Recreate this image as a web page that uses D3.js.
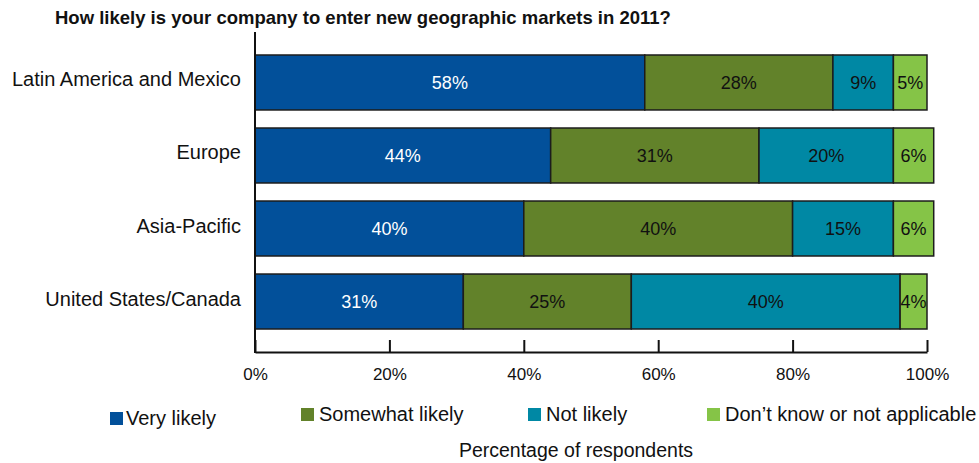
<!DOCTYPE html>
<html>
<head>
<meta charset="utf-8">
<script src="https://cdn.jsdelivr.net/npm/d3@7"></script>
<style>
  html, body { margin: 0; padding: 0; background: #fff; }
  svg { display: block; font-family: "Liberation Sans", Arial, sans-serif; }
</style>
</head>
<body>
<svg id="chart" width="979" height="463"></svg>
<script>
// Regions, top to bottom
const regions = ["Latin America and Mexico", "Europe", "Asia-Pacific", "United States/Canada"];
// Response categories
const responses = ["Very likely", "Somewhat likely", "Not likely", "Don\u2019t know or not applicable"];
// Percent of respondents per region, one array per response
const veryLikely     = [58, 44, 40, 31];
const somewhatLikely = [28, 31, 40, 25];
const notLikely      = [9, 20, 15, 40];
const dontKnow       = [5, 6, 6, 4];
// Axis ticks
const tickValues = [0, 20, 40, 60, 80, 100];

const colors = ["#02509a", "#62822a", "#0088a4", "#85c447"];
const labelColors = ["#ffffff", "#111111", "#111111", "#111111"];

const series = [veryLikely, somewhatLikely, notLikely, dontKnow];
const rows = regions.map((r, i) => {
  const o = { region: r };
  responses.forEach((k, j) => { o[k] = series[j][i]; });
  return o;
});
const stacked = d3.stack().keys(responses)(rows);

const svg = d3.select("#chart");
const x0 = 255, x1 = 927, yTop = 32, yBot = 352;

const x = d3.scaleLinear().domain([0, 100]).range([x0, x1]);
const y = d3.scaleBand().domain(regions).range([yTop, yBot]).paddingInner(0.247).paddingOuter(0.315);

// Title
svg.append("text")
  .attr("x", 55).attr("y", 24)
  .attr("font-size", 18.5).attr("font-weight", "bold").attr("fill", "#111")
  .text("How likely is your company to enter new geographic markets in 2011?");

// Bars
const layer = svg.append("g").selectAll("g").data(stacked).join("g")
  .attr("fill", (d, i) => colors[i]);

layer.selectAll("rect").data(d => d).join("rect")
  .attr("x", d => x(d[0]))
  .attr("y", d => y(d.data.region))
  .attr("width", d => x(d[1]) - x(d[0]))
  .attr("height", y.bandwidth())
  .attr("stroke", "#1c1c1c").attr("stroke-width", 1.5);

// Value labels
stacked.forEach((s, i) => {
  svg.append("g").selectAll("text").data(s).join("text")
    .attr("x", d => x((d[0] + d[1]) / 2))
    .attr("y", d => y(d.data.region) + y.bandwidth() / 2)
    .attr("dy", "0.35em")
    .attr("text-anchor", "middle")
    .attr("font-size", 18)
    .attr("fill", labelColors[i])
    .text(d => (d[1] - d[0]) + "%");
});

// Category labels
svg.append("g").selectAll("text").data(regions).join("text")
  .attr("x", 241)
  .attr("y", d => y(d) + y.bandwidth() / 2 - 3)
  .attr("dy", "0.35em")
  .attr("text-anchor", "end")
  .attr("font-size", 20)
  .attr("fill", "#111")
  .text(d => d);

// Vertical axis line
svg.append("line")
  .attr("x1", x0).attr("x2", x0).attr("y1", yTop).attr("y2", yBot + 1)
  .attr("stroke", "#111").attr("stroke-width", 2);

// Bottom axis with inward ticks
const xAxis = d3.axisBottom(x).tickValues(tickValues).tickFormat(d => d + "%")
  .tickSizeInner(-12).tickSizeOuter(0).tickPadding(16);
const ax = svg.append("g").attr("transform", `translate(0,${yBot})`).call(xAxis);
ax.select(".domain").attr("stroke", "#111").attr("stroke-width", 2);
ax.selectAll(".tick line").attr("stroke", "#111").attr("stroke-width", 2);
ax.selectAll(".tick text").attr("font-size", 17).attr("fill", "#111")
  .attr("font-family", "Liberation Sans, Arial, sans-serif");

// Legend
const legendPos = [
  { x: 110, y: 418 },
  { x: 301, y: 414 },
  { x: 528, y: 414 },
  { x: 707, y: 414 }
];
const lg = svg.append("g").selectAll("g").data(responses).join("g")
  .attr("transform", (d, i) => `translate(${legendPos[i].x},${legendPos[i].y})`);
lg.append("rect").attr("x", 0).attr("y", -6).attr("width", 13).attr("height", 13)
  .attr("fill", (d, i) => colors[i]);
lg.append("text").attr("x", (d, i) => i === 0 ? 16 : 18).attr("y", 0).attr("dy", "0.35em")
  .attr("font-size", 20).attr("fill", "#111").text(d => d);

// Axis title
svg.append("text")
  .attr("x", 576).attr("y", 450).attr("dy", "0.35em")
  .attr("text-anchor", "middle").attr("font-size", 19.5).attr("fill", "#111")
  .text("Percentage of respondents");
</script>
</body>
</html>
